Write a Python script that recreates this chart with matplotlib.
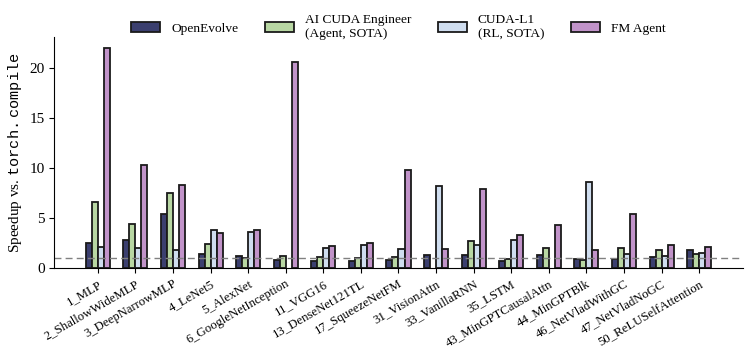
import numpy as np
import matplotlib
matplotlib.use("Agg")
import matplotlib.pyplot as plt

plt.rcParams['font.family'] = ['Liberation Serif', 'DejaVu Serif']
plt.rcParams['mathtext.fontset'] = 'custom'
plt.rcParams['mathtext.rm'] = 'Liberation Serif'
plt.rcParams['mathtext.tt'] = 'Liberation Mono'

tasks = ['1_MLP', '2_ShallowWideMLP', '3_DeepNarrowMLP', '4_LeNet5', '5_AlexNet',
         '6_GoogleNetInception', '11_VGG16', '13_DenseNet121TL', '17_SqueezeNetFM',
         '31_VisionAttn', '33_VanillaRNN', '35_LSTM', '43_MinGPTCausalAttn',
         '44_MinGPTBlk', '46_NetVladWithGC', '47_NetVladNoGC', '50_ReLUSelfAttention']

nan = np.nan
openevolve = [2.5, 2.8, 5.45, 1.4, 1.15, 0.8, 0.65, 0.7, 0.8, 1.25, 1.25, 0.65, 1.25, 0.85, 0.85, 1.1, 1.75]
ai_cuda    = [6.6, 4.4, 7.5, 2.4, 0.95, 1.15, 1.05, 0.95, 1.05, nan, 2.7, 0.85, 1.95, 0.8, 1.95, 1.8, 1.35]
cuda_l1    = [2.05, 1.95, 1.75, 3.85, 3.65, nan, 1.95, 2.3, 1.85, 8.2, 2.25, 2.8, nan, 8.65, 1.35, 1.15, 1.5]
fm_agent   = [22.0, 10.3, 8.3, 3.55, 3.85, 20.6, 2.15, 2.5, 9.8, 1.9, 7.9, 3.35, 4.35, 1.8, 5.4, 2.25, 2.1]

series = [openevolve, ai_cuda, cuda_l1, fm_agent]
labels = ['OpenEvolve', 'AI CUDA Engineer\n(Agent, SOTA)', 'CUDA-L1\n(RL, SOTA)', 'FM Agent']
colors = ['#3b3f6f', '#b8d7a3', '#cfddef', '#c193c9']

fig = plt.figure(figsize=(7.54, 3.54), dpi=100)
ax = fig.add_axes([0.072, 0.243, 0.913, 0.652])

x = np.arange(len(tasks))
w = 0.16
for i, (vals, lab, c) in enumerate(zip(series, labels, colors)):
    ax.bar(x + (i - 1.5) * w, vals, w, label=lab, color=c, edgecolor='#1a1a1a', linewidth=1.3)

ax.axhline(1, color='#808080', linestyle='--', linewidth=1.0, dashes=(5, 3))

ax.set_xlim(-1.16, 17.16)
ax.set_ylim(0, 23.1)
ax.set_yticks([0, 5, 10, 15, 20])
ax.set_xticks(x)
ax.set_xticklabels(tasks, rotation=30, ha='right', rotation_mode='anchor', fontsize=9.2)
ax.tick_params(axis='y', labelsize=11)
ax.set_ylabel(r'Speedup vs. $\mathtt{torch.compile}$', fontsize=11)

ax.spines['top'].set_visible(False)
ax.spines['right'].set_visible(False)

ax.legend(loc='lower center', bbox_to_anchor=(0.5, 0.935), ncol=4, frameon=False,
          fontsize=9.6, handlelength=2.2, handletextpad=0.8, columnspacing=2.0)

fig.savefig('out.png', dpi=100)
